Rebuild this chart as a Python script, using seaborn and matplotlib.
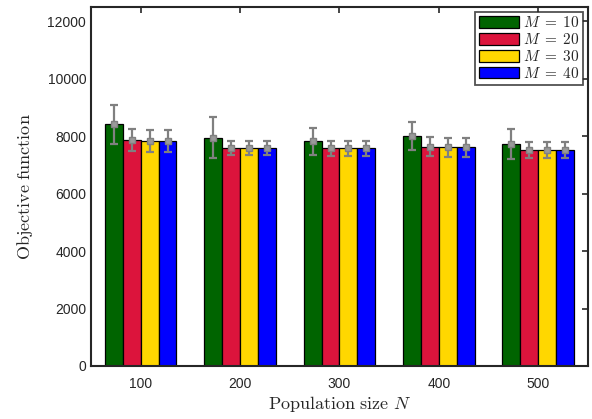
import matplotlib
matplotlib.use("Agg")
import matplotlib.pyplot as plt
import seaborn as sns
import pandas as pd
import numpy as np

categories = ["100", "200", "300", "400", "500"]
series_names = [r"$M\;=\;10$", r"$M\;=\;20$", r"$M\;=\;30$", r"$M\;=\;40$"]
m10 = [8420, 7950, 7820, 8000, 7730]
m20 = [7860, 7590, 7575, 7635, 7520]
m30 = [7845, 7590, 7575, 7610, 7520]
m40 = [7845, 7590, 7575, 7610, 7530]
e10 = [685, 720, 470, 480, 510]
e20 = [390, 255, 260, 325, 280]
e30 = [380, 255, 260, 330, 280]
e40 = [380, 255, 260, 330, 280]
colors = ["#006400", "#DC143C", "#FFD700", "#0000FF"]

values = [m10, m20, m30, m40]
errors = [e10, e20, e30, e40]

rows = []
for name, vals, errs in zip(series_names, values, errors):
    for c, v, e in zip(categories, vals, errs):
        rows.append({"N": c, "M": name, "val": v, "err": e})
df = pd.DataFrame(rows)

sns.set_style("white")
plt.rcParams["mathtext.fontset"] = "cm"
plt.rcParams["font.family"] = ["Liberation Sans", "DejaVu Sans"]

fig = plt.figure(figsize=(5.92, 4.19), dpi=100)
ax = fig.add_axes([0.1537, 0.1265, 0.8395, 0.8568])

sns.barplot(data=df, x="N", y="val", hue="M", order=categories,
            hue_order=series_names, palette=colors, width=0.72,
            errorbar=None, edgecolor="black", linewidth=0.9,
            saturation=1, ax=ax)

for cont, errs in zip(ax.containers, errors):
    xs = [b.get_x() + b.get_width() / 2 for b in cont]
    ys = [b.get_height() for b in cont]
    ax.errorbar(xs, ys, yerr=errs, fmt="s", color="#808080",
                markersize=4.5, markerfacecolor="#9a9a9a",
                markeredgecolor="#808080", elinewidth=1.6,
                capsize=3, capthick=1.6, zorder=5)

ax.set_xlim(-0.5, 4.5)
ax.set_ylim(0, 12500)
ax.set_yticks([0, 2000, 4000, 6000, 8000, 10000, 12000])
ax.tick_params(axis="both", direction="in", length=4, width=1.2,
               labelsize=10, top=True, right=True, colors="#262626",
               labelcolor="#262626")
ax.tick_params(axis="x", pad=8)
for s in ax.spines.values():
    s.set_color("#262626")
    s.set_linewidth(1.5)
ax.set_xlabel(r"$\mathrm{Population\ size}\ N$", fontsize=13, color="#262626",
              labelpad=2)
ax.set_ylabel(r"$\mathrm{Objective\ function}$", fontsize=13, color="#262626",
              labelpad=9)

leg = ax.legend(loc="upper right", fontsize=11, frameon=True, fancybox=False,
                handlelength=2.6, handleheight=0.8, borderpad=0.25,
                labelspacing=0.12, handletextpad=0.3, borderaxespad=0.3,
                title=None)
leg.get_frame().set_edgecolor("#262626")
leg.get_frame().set_linewidth(1.3)

fig.savefig("out.png", dpi=100)
